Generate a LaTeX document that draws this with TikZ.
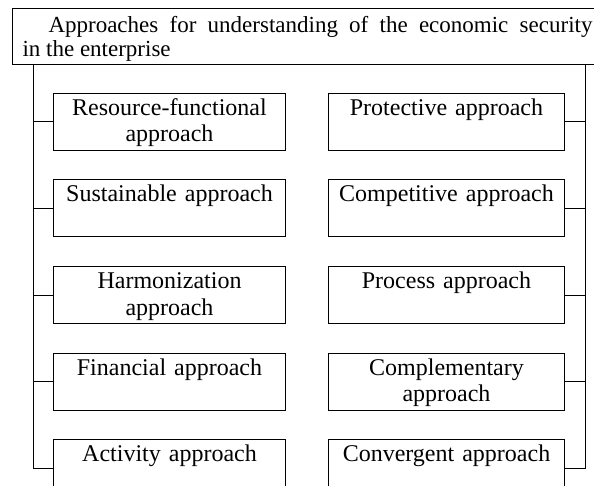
\documentclass[tikz,border=0pt]{standalone}
\usepackage{fontspec}
\setmainfont{Liberation Serif}
\usetikzlibrary{positioning}

\begin{document}
\begin{tikzpicture}[x=1pt, y=-1pt, line width=1pt, node distance=28.5pt and 42pt]

    \tikzstyle{every node}=[inner sep=0pt, font=\fontsize{24}{26.5}\selectfont]
    \tikzstyle{approach}=[draw=black, align=center, text height=22pt, text depth=35pt]
    \tikzstyle{left box}=[approach, text width=232pt]
    \tikzstyle{right box}=[approach, text width=236pt]
    \tikzstyle{head}=[draw=black, align=justify, text width=570pt, inner xsep=10pt,
                      text height=24pt, text depth=32pt, font=\fontsize{23}{24.5}\selectfont]

    \useasboundingbox (0,0) rectangle (594,486);

    \node[head, anchor=north west] (head) at (12,8)
        {\hspace*{26pt}Approaches for understanding of the economic security\linebreak in the enterprise};

    \node[left box, anchor=north west] (res) at (53,93) {Resource-functional\\approach};
    \node[left box] (sus) [below=of res] {Sustainable approach};
    \node[left box] (har) [below=of sus] {Harmonization\\approach};
    \node[left box] (fin) [below=of har] {Financial approach};
    \node[left box] (act) [below=of fin] {Activity approach};

    \node[right box] (pro) [right=of res] {Protective approach};
    \node[right box] (com) [below=of pro] {Competitive approach};
    \node[right box] (proc) [below=of com] {Process approach};
    \node[right box] (cpl) [below=of proc] {Complementary\\approach};
    \node[right box] (conv) [below=of cpl] {Convergent approach};

    \coordinate (spineL) at ([xshift=21pt]head.south west);
    \path (pro.east) ++(20pt,0) coordinate (r0);
    \coordinate (spineR) at (r0 |- head.south);

    \draw (spineL) |- (act.west);
    \foreach \b in {res,sus,har,fin}
        \draw (spineL |- \b.west) -- (\b.west);

    \draw (spineR) |- (conv.east);
    \foreach \b in {pro,com,proc,cpl}
        \draw (spineR |- \b.east) -- (\b.east);

\end{tikzpicture}
\end{document}
